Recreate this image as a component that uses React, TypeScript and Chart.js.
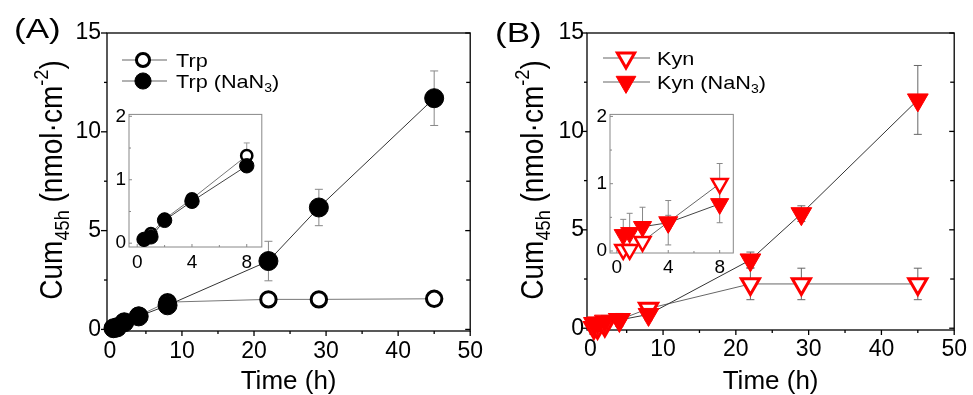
import React, { useEffect, useRef } from 'react';
import { Chart, registerables } from 'chart.js';
Chart.register(...registerables);

const FONT = "'Liberation Sans', Arial, Helvetica, sans-serif";

// ---- data ----
const times = [0.5, 1, 2, 4, 8, 22, 29, 45];
const trp = [0.06, 0.15, 0.38, 0.7, 1.38, 1.52, 1.52, 1.55];
const trpErr = [0.02, 0.03, 0.03, 0.05, 0.2, 0.1, 0.1, 0.1];
const trpNaN3 = [0.06, 0.1, 0.36, 0.66, 1.22, 3.46, 6.17, 11.7];
const trpNaN3Err = [0.03, 0.03, 0.04, 0.05, 0.08, 1.0, 0.92, 1.38];
const kyn = [0.02, 0.02, 0.14, 0.43, 1.0, 2.25, 2.25, 2.25];
const kynErr = [0.05, 0.05, 0.06, 0.1, 0.3, 0.8, 0.8, 0.8];
const kynNaN3 = [0.24, 0.27, 0.36, 0.42, 0.7, 3.47, 5.82, 11.6];
const kynNaN3Err = [0.23, 0.29, 0.29, 0.33, 0.28, 0.4, 0.4, 1.75];
const insetCount = 5; // inset shows 0.5 - 8 h

const mainXTicks = [0, 10, 20, 30, 40, 50];
const mainXMinor = [5, 15, 25, 35, 45];
const mainYTicks = [0, 5, 10, 15];
const mainYMinor = [2.5, 7.5, 12.5];
const insetXTicks = [0, 4, 8];
const insetXMinor = [2, 6];
const insetYTicks = [0, 1, 2];
const insetYMinor = [0.5, 1.5];

const xTitle = 'Time (h)';
const panelLabels = ['(A)', '(B)'];

type Seg = { t: string; s: number; dy?: number };

function segWidth(ctx: CanvasRenderingContext2D, segs: Seg[]) {
  let w = 0;
  for (const g of segs) {
    ctx.font = `${g.s}px ${FONT}`;
    w += ctx.measureText(g.t).width;
  }
  return w;
}

function drawRich(
  ctx: CanvasRenderingContext2D,
  segs: Seg[],
  x: number,
  y: number,
  o: { rotate?: number; align?: 'left' | 'center'; base?: number; sx?: number } = {}
) {
  ctx.save();
  ctx.translate(x, y);
  if (o.sx) ctx.scale(o.sx, 1);
  if (o.rotate) ctx.rotate(o.rotate);
  const w = segWidth(ctx, segs);
  let cx = o.align === 'center' ? -w / 2 : 0;
  ctx.textAlign = 'left';
  ctx.textBaseline = 'alphabetic';
  ctx.fillStyle = '#000';
  for (const g of segs) {
    ctx.font = `${g.s}px ${FONT}`;
    ctx.fillText(g.t, cx, (o.base || 0) + (g.dy || 0));
    cx += ctx.measureText(g.t).width;
  }
  ctx.restore();
}

function drawMarker(
  ctx: CanvasRenderingContext2D,
  kind: string,
  x: number,
  y: number,
  r: number,
  fill: string,
  stroke: string,
  bw: number
) {
  ctx.save();
  ctx.beginPath();
  if (kind === 'circle') {
    ctx.arc(x, y, r, 0, Math.PI * 2);
  } else {
    const s = Math.sin(Math.PI / 3) * r;
    ctx.moveTo(x, y + r);
    ctx.lineTo(x - s, y - r / 2);
    ctx.lineTo(x + s, y - r / 2);
    ctx.closePath();
  }
  ctx.fillStyle = fill;
  ctx.fill();
  ctx.lineWidth = bw;
  ctx.strokeStyle = stroke;
  ctx.stroke();
  ctx.restore();
}

const framePlugin = {
  id: 'frame',
  beforeDatasetsDraw(chart: any, _a: any, opts: any) {
    const { ctx, chartArea: a, scales } = chart;
    ctx.save();
    ctx.strokeStyle = opts.color;
    ctx.lineWidth = opts.width;
    ctx.strokeRect(a.left, a.top, a.right - a.left, a.bottom - a.top);
    for (const t of opts.ticks || []) {
      const isX = t.side === 'bottom' || t.side === 'top';
      const scale = isX ? scales.x : scales.y;
      const base = a[t.side];
      const outSign = t.side === 'left' || t.side === 'top' ? -1 : 1;
      const sign = t.inward ? -outSign : outSign;
      const draw = (v: number, len: number) => {
        const p = scale.getPixelForValue(v);
        ctx.beginPath();
        if (isX) {
          ctx.moveTo(p, base);
          ctx.lineTo(p, base + sign * len);
        } else {
          ctx.moveTo(base, p);
          ctx.lineTo(base + sign * len, p);
        }
        ctx.stroke();
      };
      (isX ? opts.xMajor : opts.yMajor).forEach((v: number) => draw(v, t.major));
      (isX ? opts.xMinor : opts.yMinor).forEach((v: number) => draw(v, t.minor));
    }
    ctx.restore();
    // error bars
    ctx.save();
    ctx.strokeStyle = opts.errColor;
    ctx.lineWidth = 1;
    chart.data.datasets.forEach((ds: any, i: number) => {
      const meta = chart.getDatasetMeta(i);
      ds.data.forEach((d: any, j: number) => {
        const e = ds.errors[j];
        const el = meta.data[j];
        if (!el || !e) return;
        const x = el.x;
        const y1 = scales.y.getPixelForValue(d.y + e);
        const y2 = scales.y.getPixelForValue(d.y - e);
        ctx.beginPath();
        ctx.moveTo(x, y1);
        ctx.lineTo(x, y2);
        ctx.moveTo(x - opts.cap, y1);
        ctx.lineTo(x + opts.cap, y1);
        ctx.moveTo(x - opts.cap, y2);
        ctx.lineTo(x + opts.cap, y2);
        ctx.stroke();
      });
    });
    ctx.restore();
  },
  afterDatasetsDraw(chart: any, _a: any, opts: any) {
    const { ctx } = chart;
    if (opts.legend) {
      const L = opts.legend;
      L.items.forEach((it: any, k: number) => {
        const ds = chart.data.datasets[it.ds];
        const y = L.rows[k];
        ctx.save();
        ctx.strokeStyle = L.lineColor;
        ctx.lineWidth = 1.2;
        ctx.beginPath();
        ctx.moveTo(L.x0, y);
        ctx.lineTo(L.x1, y);
        ctx.stroke();
        ctx.restore();
        drawMarker(ctx, ds.pointStyle, L.mx, y, ds.pointRadius * L.scale, ds.pointBackgroundColor, ds.pointBorderColor, ds.pointBorderWidth);
        drawRich(ctx, it.segs, L.tx, y, { base: L.size * 0.36, sx: L.sx });
      });
    }
    if (opts.yTitle) {
      const T = opts.yTitle;
      drawRich(ctx, T.segs, T.x, T.y, { rotate: -Math.PI / 2, align: 'center', base: T.size * 0.36, sx: T.sx });
    }
    if (opts.label) {
      const P = opts.label;
      drawRich(ctx, [{ t: P.text, s: P.size }], P.x, P.y, { base: P.size * 0.36, sx: P.sx });
    }
  },
};

type Ser = {
  y: number[];
  err: number[];
  kind: string;
  filled: boolean;
  color: string;
  line: string;
  r: number;
  bw: number;
};

function makeConfig(p: any) {
  const n = p.n;
  return {
    type: 'line',
    data: {
      datasets: p.series.map((s: Ser) => ({
        data: times.slice(0, n).map((t, i) => ({ x: t, y: s.y[i] })),
        errors: s.err.slice(0, n),
        borderColor: s.line,
        borderWidth: 1,
        pointStyle: s.kind,
        pointRotation: s.kind === 'triangle' ? 180 : 0,
        pointRadius: s.r,
        pointHoverRadius: s.r,
        pointBorderWidth: s.bw,
        pointBackgroundColor: s.filled ? s.color : '#ffffff',
        pointBorderColor: s.color,
        clip: false,
        tension: 0,
        fill: false,
      })),
    },
    options: {
      animation: false,
      responsive: false,
      events: [],
      layout: { padding: p.pad },
      scales: {
        x: {
          type: 'linear',
          min: p.xr[0],
          max: p.xr[1],
          grid: { display: false, drawTicks: false },
          border: { display: false },
          afterBuildTicks: (s: any) => {
            s.ticks = p.xTicks.map((v: number) => ({ value: v }));
          },
          afterFit: (s: any) => {
            s.height = p.xH;
          },
          ticks: {
            font: { size: p.tickSize, family: FONT },
            color: '#000',
            padding: p.xPad,
            maxRotation: 0,
            autoSkip: false,
          },
          title: p.xTitle
            ? {
                display: true,
                text: p.xTitle,
                color: '#000',
                font: { size: p.xTitleSize, family: FONT, lineHeight: 1 },
                padding: { top: 0, bottom: 0 },
              }
            : { display: false },
        },
        y: {
          type: 'linear',
          min: p.yr[0],
          max: p.yr[1],
          grid: { display: false, drawTicks: false },
          border: { display: false },
          afterBuildTicks: (s: any) => {
            s.ticks = p.yTicks.map((v: number) => ({ value: v }));
          },
          afterFit: (s: any) => {
            s.width = p.yW;
          },
          ticks: {
            font: { size: p.tickSize, family: FONT },
            color: '#000',
            padding: p.yPad,
            autoSkip: false,
          },
        },
      },
      plugins: {
        legend: { display: false },
        tooltip: { enabled: false },
        frame: {
          color: p.frameColor,
          width: p.frameWidth,
          ticks: p.ticks,
          xMajor: p.xTicks,
          xMinor: p.xMinor,
          yMajor: p.yTicks,
          yMinor: p.yMinor,
          errColor: p.errColor,
          cap: p.cap,
          legend: p.legend,
          yTitle: p.yTitle,
          label: p.label,
        },
      },
    },
    plugins: [framePlugin],
  };
}

const yTitleSegs = (s: number): Seg[] => [
  { t: 'Cum', s },
  { t: '45h', s: s * 0.65, dy: s * 0.22 },
  { t: ' (nmol·cm', s },
  { t: '-2', s: s * 0.65, dy: -s * 0.42 },
  { t: ')', s },
];

const legSegs = (name: string, sub: boolean, s: number): Seg[] =>
  sub
    ? [
        { t: name + ' (NaN', s },
        { t: '3', s: s * 0.65, dy: s * 0.22 },
        { t: ')', s },
      ]
    : [{ t: name, s }];

const mainTicks = [
  { side: 'left', inward: false, major: 6, minor: 3 },
  { side: 'bottom', inward: false, major: 5, minor: 3 },
  { side: 'right', inward: true, major: 5, minor: 4 },
];
const insetTicksSpec = [
  { side: 'left', inward: true, major: 3, minor: 2 },
  { side: 'bottom', inward: true, major: 3, minor: 2 },
];

const serA: Ser[] = [
  { y: trpNaN3, err: trpNaN3Err, kind: 'circle', filled: true, color: '#000000', line: '#333333', r: 9.5, bw: 1 },
  { y: trp, err: trpErr, kind: 'circle', filled: false, color: '#000000', line: '#777777', r: 7.7, bw: 3 },
];
const serAi: Ser[] = [
  { y: trpNaN3, err: trpNaN3Err, kind: 'circle', filled: true, color: '#000000', line: '#444444', r: 7.2, bw: 1 },
  { y: trp, err: trpErr, kind: 'circle', filled: false, color: '#000000', line: '#777777', r: 5.6, bw: 2.5 },
];
const serB: Ser[] = [
  { y: kynNaN3, err: kynNaN3Err, kind: 'triangle', filled: true, color: '#ff0000', line: '#333333', r: 12, bw: 1 },
  { y: kyn, err: kynErr, kind: 'triangle', filled: false, color: '#ff0000', line: '#666666', r: 10.5, bw: 3 },
];
const serBi: Ser[] = [
  { y: kynNaN3, err: kynNaN3Err, kind: 'triangle', filled: true, color: '#ff0000', line: '#444444', r: 10.5, bw: 1 },
  { y: kyn, err: kynErr, kind: 'triangle', filled: false, color: '#ff0000', line: '#666666', r: 9.2, bw: 2.5 },
];

const panels = [
  {
    box: { left: 0, top: 0, w: 490, h: 395 },
    n: times.length,
    pad: { left: 0, top: 33, right: 14, bottom: 0 },
    yW: 107,
    xH: 64,
    xr: [-0.4, 50],
    yr: [-0.08, 15],
    xTicks: mainXTicks,
    xMinor: mainXMinor,
    yTicks: mainYTicks,
    yMinor: mainYMinor,
    tickSize: 23,
    xPad: 7,
    yPad: 6,
    xTitle,
    xTitleSize: 26,
    frameColor: '#000',
    frameWidth: 1.3,
    ticks: mainTicks,
    errColor: '#888888',
    cap: 4,
    series: serA,
    legend: {
      items: [
        { ds: 1, segs: legSegs('Trp', false, 19) },
        { ds: 0, segs: legSegs('Trp', true, 19) },
      ],
      rows: [60, 81],
      x0: 122,
      x1: 167,
      mx: 143,
      tx: 176,
      size: 19,
      sx: 1.14,
      scale: 0.85,
      lineColor: '#666666',
    },
    yTitle: { segs: yTitleSegs(28), size: 28, x: 50, y: 180, sx: 1.15 },
    label: { text: panelLabels[0], size: 28, x: 14, y: 28, sx: 1.25 },
  },
  {
    box: { left: 95, top: 100, w: 175, h: 180 },
    n: insetCount,
    pad: { left: 0, top: 11, right: 8, bottom: 0 },
    yW: 34,
    xH: 33,
    xr: [-0.6, 9.1],
    yr: [-0.06, 2.03],
    xTicks: insetXTicks,
    xMinor: insetXMinor,
    yTicks: insetYTicks,
    yMinor: insetYMinor,
    tickSize: 19,
    xPad: 4,
    yPad: 3,
    frameColor: '#888888',
    frameWidth: 1,
    ticks: insetTicksSpec,
    errColor: '#999999',
    cap: 3,
    series: serAi,
  },
  {
    box: { left: 490, top: 0, w: 483, h: 395 },
    n: times.length,
    pad: { left: 0, top: 33, right: 16, bottom: 0 },
    yW: 97,
    xH: 65,
    xr: [-0.45, 50],
    yr: [-0.09, 15],
    xTicks: mainXTicks,
    xMinor: mainXMinor,
    yTicks: mainYTicks,
    yMinor: mainYMinor,
    tickSize: 23,
    xPad: 6,
    yPad: 3,
    xTitle,
    xTitleSize: 26,
    frameColor: '#000',
    frameWidth: 1.3,
    ticks: mainTicks,
    errColor: '#666666',
    cap: 4,
    series: serB,
    legend: {
      items: [
        { ds: 1, segs: legSegs('Kyn', false, 19) },
        { ds: 0, segs: legSegs('Kyn', true, 19) },
      ],
      rows: [58, 82],
      x0: 113,
      x1: 160,
      mx: 136,
      tx: 167,
      size: 19,
      sx: 1.14,
      scale: 0.95,
      lineColor: '#666666',
    },
    yTitle: { segs: yTitleSegs(28), size: 28, x: 41, y: 180, sx: 1.15 },
    label: { text: panelLabels[1], size: 28, x: 5, y: 32, sx: 1.25 },
  },
  {
    box: { left: 575, top: 100, w: 170, h: 185 },
    n: insetCount,
    pad: { left: 0, top: 13, right: 8, bottom: 0 },
    yW: 35,
    xH: 32,
    xr: [-0.53, 9.06],
    yr: [-0.03, 2.03],
    xTicks: insetXTicks,
    xMinor: insetXMinor,
    yTicks: insetYTicks,
    yMinor: insetYMinor,
    tickSize: 19,
    xPad: 3,
    yPad: 3,
    frameColor: '#888888',
    frameWidth: 1,
    ticks: insetTicksSpec,
    errColor: '#888888',
    cap: 3,
    series: serBi,
  },
];

function Panel({ p }: { p: any }) {
  const ref = useRef<HTMLCanvasElement>(null);
  useEffect(() => {
    if (!ref.current) return;
    const chart = new Chart(ref.current, makeConfig(p) as any);
    return () => chart.destroy();
  }, []);
  return (
    <canvas
      ref={ref}
      width={p.box.w}
      height={p.box.h}
      style={{ position: 'absolute', left: p.box.left, top: p.box.top, width: p.box.w, height: p.box.h }}
    />
  );
}

export default function App() {
  return (
    <div style={{ position: 'fixed', left: 0, top: 0, width: 973, height: 395, background: '#fff', overflow: 'hidden' }}>
      {panels.map((p, i) => (
        <Panel key={i} p={p} />
      ))}
    </div>
  );
}
